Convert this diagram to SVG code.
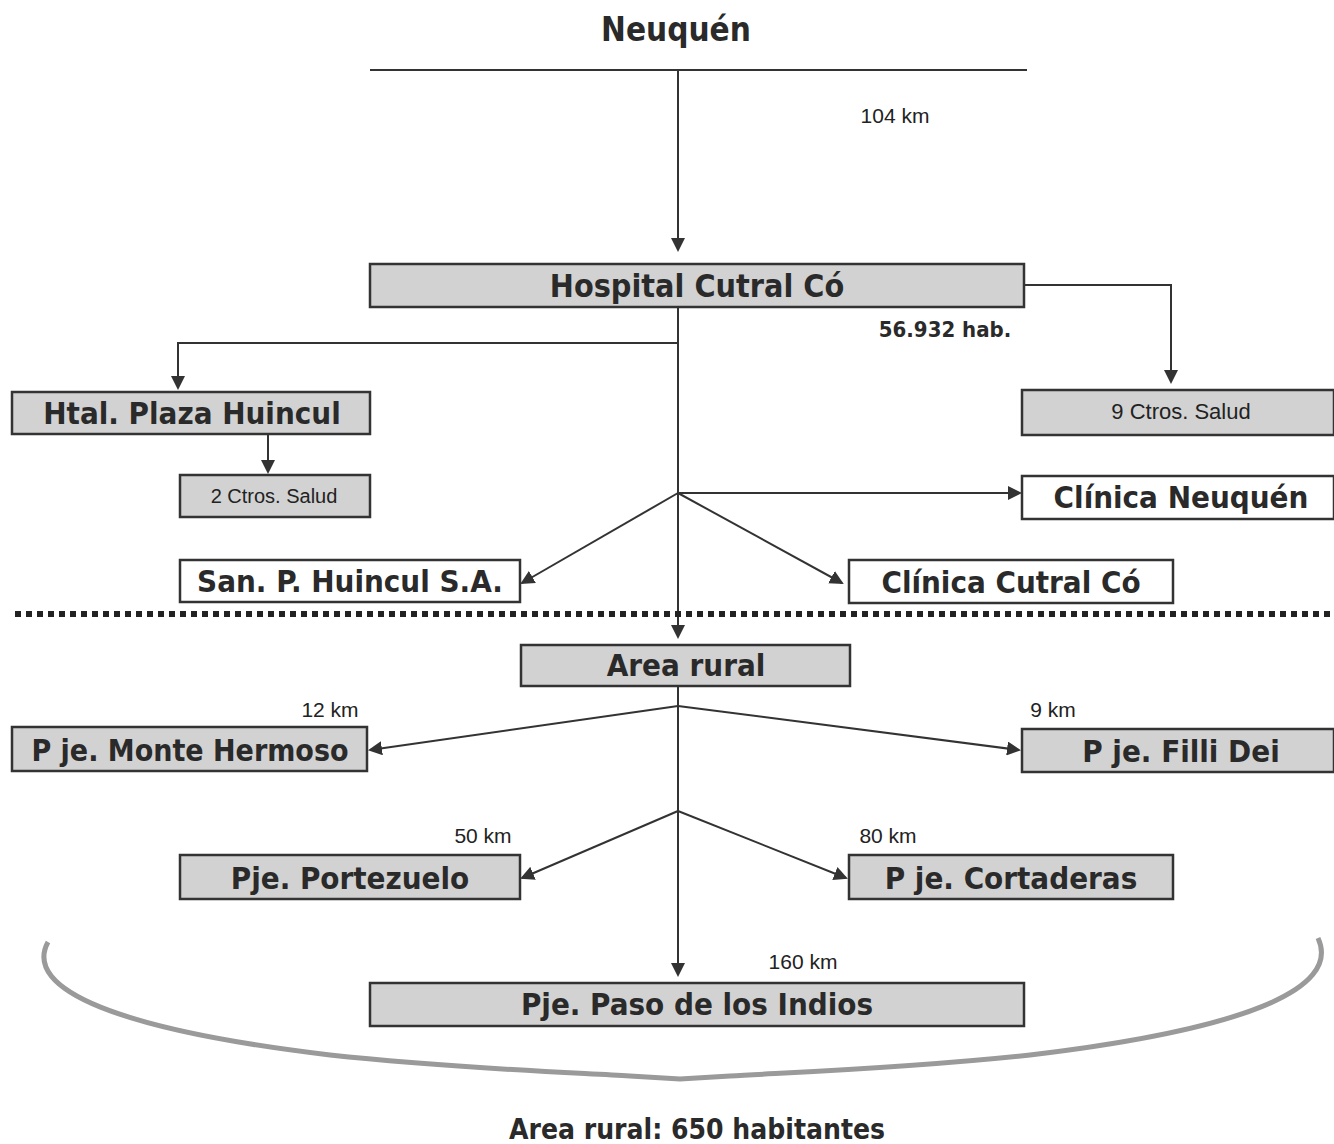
<svg xmlns="http://www.w3.org/2000/svg" width="1334" height="1144" viewBox="0 0 1334 1144">
<style>
.g{fill:#d2d2d2;stroke:#333;stroke-width:2.5}
.w{fill:#fff;stroke:#333;stroke-width:2.5}
.t{font-family:"DejaVu Sans Condensed","DejaVu Sans",sans-serif;font-weight:bold;fill:#2a2a2a;text-anchor:middle}
.s{font-family:"Liberation Sans",Arial,sans-serif;fill:#222;text-anchor:middle}
.c{stroke:#333;stroke-width:2;fill:none}
</style>
<defs>
<marker id="a" markerWidth="14" markerHeight="14" refX="12" refY="7" orient="auto" markerUnits="userSpaceOnUse">
<path d="M0,0 L14,7 L0,14 z" fill="#333"/>
</marker>
</defs>
<rect width="1334" height="1144" fill="#fff"/>
<text class="t" x="676" y="41" font-size="33">Neuquén</text>
<g id="connectors">
<line class="c" x1="370" y1="70" x2="1027" y2="70"/>
<line class="c" x1="678" y1="70" x2="678" y2="250" marker-end="url(#a)"/>
<polyline class="c" points="1024,285 1171,285 1171,382" marker-end="url(#a)"/>
<line class="c" x1="678" y1="307" x2="678" y2="637" marker-end="url(#a)"/>
<polyline class="c" points="678,343 178,343 178,388" marker-end="url(#a)"/>
<line class="c" x1="268" y1="434" x2="268" y2="472" marker-end="url(#a)"/>
<line class="c" x1="678" y1="493" x2="1020" y2="493" marker-end="url(#a)"/>
<line class="c" x1="678" y1="493" x2="522" y2="583" marker-end="url(#a)"/>
<line class="c" x1="678" y1="493" x2="842" y2="583" marker-end="url(#a)"/>
<line class="c" x1="678" y1="686" x2="678" y2="975" marker-end="url(#a)"/>
<line class="c" x1="678" y1="706" x2="370" y2="750" marker-end="url(#a)"/>
<line class="c" x1="678" y1="706" x2="1019" y2="750" marker-end="url(#a)"/>
<line class="c" x1="678" y1="811" x2="522" y2="878" marker-end="url(#a)"/>
<line class="c" x1="678" y1="811" x2="846" y2="878" marker-end="url(#a)"/>
<line x1="15" y1="614" x2="1334" y2="614" stroke="#222" stroke-width="6" stroke-dasharray="6,5"/>
<path d="M48,942 C22,990 120,1030 330,1055 C450,1068 560,1072 630,1076 L680,1079 L730,1076 C800,1072 910,1068 1030,1055 C1240,1030 1342,990 1318,938" fill="none" stroke="#9a9a9a" stroke-width="5"/>
</g>
<text class="s" x="895" y="123" font-size="21">104 km</text>
<text class="t" x="945" y="337" font-size="22">56.932 hab.</text>
<g id="hospital"><rect class="g" x="370" y="264" width="654" height="43"/><text class="t" x="697" y="297" font-size="32">Hospital Cutral Có</text></g>
<g id="plaza"><rect class="g" x="12" y="392" width="358" height="42"/><text class="t" x="192" y="424" font-size="31">Htal. Plaza Huincul</text></g>
<g id="ctros2"><rect class="g" x="180" y="475" width="190" height="42"/><text class="s" x="274" y="503" font-size="20">2 Ctros. Salud</text></g>
<g id="ctros9"><rect class="g" x="1022" y="390" width="312" height="45"/><text class="s" x="1181" y="419" font-size="22">9 Ctros. Salud</text></g>
<g id="clineuquen"><rect class="w" x="1022" y="476" width="312" height="43"/><text class="t" x="1181" y="508" font-size="31">Clínica Neuquén</text></g>
<g id="sanp"><rect class="w" x="180" y="560" width="340" height="42"/><text class="t" x="350" y="592" font-size="31">San. P. Huincul S.A.</text></g>
<g id="clicutral"><rect class="w" x="849" y="560" width="324" height="43"/><text class="t" x="1011" y="593" font-size="31">Clínica Cutral Có</text></g>
<g id="arearural"><rect class="g" x="521" y="645" width="329" height="41"/><text class="t" x="686" y="676" font-size="31">Area rural</text></g>
<g id="monte"><rect class="g" x="12" y="727" width="355" height="44"/><text class="t" x="190" y="761" font-size="30">P je. Monte Hermoso</text></g>
<text class="s" x="330" y="717" font-size="21">12 km</text>
<g id="filli"><rect class="g" x="1022" y="729" width="312" height="43"/><text class="t" x="1181" y="762" font-size="31">P je. Filli Dei</text></g>
<text class="s" x="1053" y="717" font-size="21">9 km</text>
<g id="portezuelo"><rect class="g" x="180" y="855" width="340" height="44"/><text class="t" x="350" y="889" font-size="31">Pje. Portezuelo</text></g>
<text class="s" x="483" y="843" font-size="21">50 km</text>
<g id="cortaderas"><rect class="g" x="849" y="855" width="324" height="44"/><text class="t" x="1011" y="889" font-size="31">P je. Cortaderas</text></g>
<text class="s" x="888" y="843" font-size="21">80 km</text>
<g id="paso"><rect class="g" x="370" y="983" width="654" height="43"/><text class="t" x="697" y="1015" font-size="31">Pje. Paso de los Indios</text></g>
<text class="s" x="803" y="969" font-size="21">160 km</text>
<text class="t" x="697" y="1139" font-size="28">Area rural: 650 habitantes</text>
</svg>
